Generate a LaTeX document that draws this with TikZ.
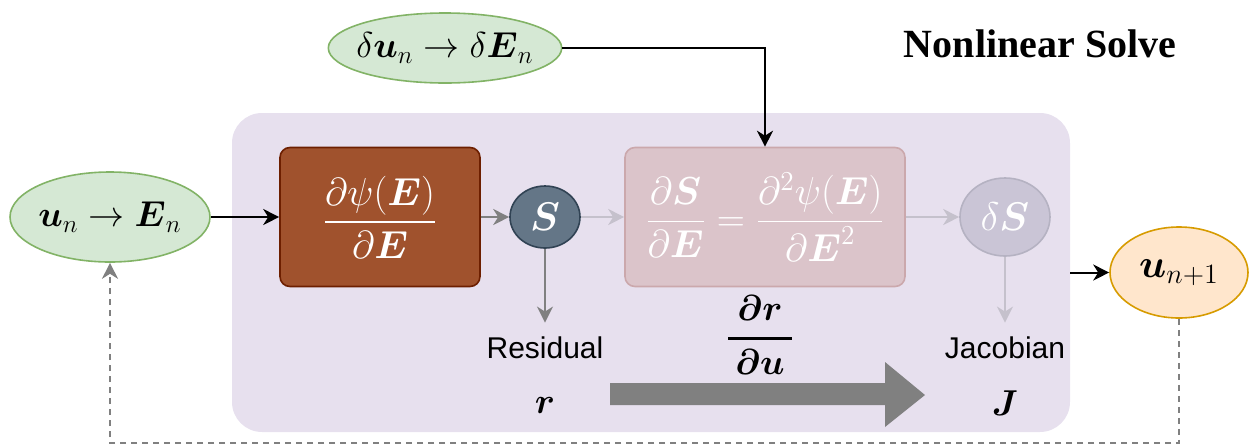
\documentclass[tikz,border=0pt]{standalone}
\usepackage{fix-cm}
\usepackage{amsmath}
\usepackage[no-math]{fontspec}
\usepackage{tikz}
\usetikzlibrary{arrows.meta,shapes.geometric}

\newfontfamily\helvfont{Liberation Sans}
\newfontfamily\timesfont{Liberation Serif}

\definecolor{panelbg}{HTML}{E7E0EE}
\definecolor{greenfill}{HTML}{D5E8D4}
\definecolor{greenline}{HTML}{82B366}
\definecolor{orangefill}{HTML}{FFE6CC}
\definecolor{orangeline}{HTML}{D79B00}
\definecolor{brownfill}{HTML}{A0522D}
\definecolor{brownline}{HTML}{6D1F00}
\definecolor{slatefill}{HTML}{647687}
\definecolor{slateline}{HTML}{314354}
\definecolor{fadedfill}{HTML}{DBC4CA}
\definecolor{fadedline}{HTML}{CBA8AC}
\definecolor{fadedsfill}{HTML}{CAC5D6}
\definecolor{fadedsline}{HTML}{B5B2C2}
\definecolor{fadedarrow}{HTML}{C5C1CC}
\definecolor{midgray}{HTML}{808080}

\newcommand{\mathsize}{\fontsize{18}{22}\selectfont}
\newcommand{\fracsize}{\fontsize{19.5}{24}\selectfont}
\newcommand{\blobsize}{\fontsize{20}{24}\selectfont}

\begin{document}
\begin{tikzpicture}[x=0.5pt,y=-0.5pt,
        every node/.style={font=\mathsize},
        arr/.style={line width=1pt,-{Stealth[length=8pt,width=8pt,inset=2.5pt]}},
        solnode/.style={ellipse,line width=0.8pt,inner sep=0pt,draw=greenline,fill=greenfill},
        block/.style={rectangle,rounded corners=5pt,line width=0.8pt,minimum width=100pt,minimum height=69.5pt,text=white,font=\fracsize},
        blob/.style={ellipse,line width=0.8pt,inner sep=0pt,text=white,font=\blobsize},
        sanslbl/.style={font=\helvfont\fontsize{15}{18}\selectfont,inner sep=7pt}]
        \useasboundingbox (0,0) rectangle (1250,446);

        \node[rectangle,rounded corners=15pt,fill=panelbg,minimum width=419pt,minimum height=159.5pt] (panel) at (651,272.5) {};
        \node[font=\timesfont\bfseries\fontsize{20}{24}\selectfont] (title) at (1040,44) {Nonlinear Solve};

        \node[solnode,inner xsep=-3pt,minimum width=115pt,minimum height=35pt] (dEn) at (445,48) {$\delta\boldsymbol{u}_n \to \delta\boldsymbol{E}_n$};
        \node[solnode,inner xsep=-1pt,minimum width=100pt,minimum height=45pt] (En) at (110,217) {$\boldsymbol{u}_n \to \boldsymbol{E}_n$};
        \node[solnode,draw=orangeline,fill=orangefill,minimum width=69pt,minimum height=45.5pt,font=\blobsize] (un1) at (1179,272.5) {$\boldsymbol{u}_{n+1}$};

        \node[block,fill=brownfill,draw=brownline] (psi) at (380,217) {$\displaystyle\frac{\partial\psi(\boldsymbol{E})}{\partial\boldsymbol{E}}$};
        \node[blob,fill=slatefill,draw=slateline,minimum width=35pt,minimum height=31pt] (S) at (545,217) {$\boldsymbol{S}$};
        \node[block,fill=fadedfill,draw=fadedline,minimum width=140pt] (hess) at (765,217) {$\displaystyle\frac{\partial\boldsymbol{S}}{\partial\boldsymbol{E}} = \frac{\partial^2\psi(\boldsymbol{E})}{\partial\boldsymbol{E}^2}$};
        \node[blob,fill=fadedsfill,draw=fadedsline,minimum width=45pt,minimum height=39pt] (dS) at (1005,217) {$\delta\boldsymbol{S}$};

        \node[sanslbl] (res) at (545,348) {Residual};
        \node (r) at (545,405) {$\boldsymbol{r}$};
        \node[sanslbl] (jac) at (1005,348) {Jacobian};
        \node (J) at (1005,403) {$\boldsymbol{J}$};
        \node (drdu) at (760,335) {$\displaystyle\boldsymbol{\genfrac{}{}{1.3pt}{0}{\,\partial r\,}{\,\partial u\,}}$};
        \coordinate (loop) at (110,443);

        \fill[midgray] (610,383) -- (885,383) -- (885,362) -- (925,395) -- (885,427) -- (885,405) -- (610,405) -- cycle;

        \draw[arr] (dEn) -| (hess);
        \draw[arr] (En) -- (psi);
        \draw[arr,midgray] (psi) -- (S);
        \draw[arr,fadedarrow] (S) -- (hess);
        \draw[arr,fadedarrow] (hess) -- (dS);
        \draw[arr,midgray] (S) -- (res);
        \draw[arr,fadedarrow] (dS) -- (jac);
        \draw[arr] (panel) -- (un1);
        \draw[arr,midgray,dash pattern=on 3pt off 2.5pt] (un1) |- (loop) -- (En);
\end{tikzpicture}
\end{document}
